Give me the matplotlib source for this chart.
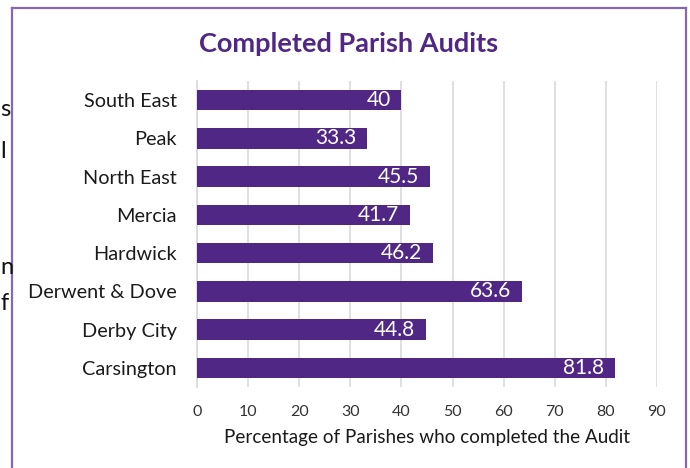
import numpy as np
import matplotlib
matplotlib.use("Agg")
from matplotlib import pyplot as plt
from matplotlib.lines import Line2D

# data, top to bottom as shown
regions = ["South East", "Peak", "North East", "Mercia", "Hardwick",
           "Derwent & Dove", "Derby City", "Carsington"]
pct_done = [40, 33.3, 45.5, 41.7, 46.2, 63.6, 44.8, 81.8]
x_ticks = [0, 10, 20, 30, 40, 50, 60, 70, 80, 90]

purple = "#512786"
plt.rcParams['font.family'] = ['Lato', 'DejaVu Sans']

W, H = 690, 468
fig = plt.figure(figsize=(W / 100, H / 100), dpi=100)
# axes placed in pixel terms: x 197..657, y 81..387
ax = fig.add_axes([197 / W, 1 - 387 / H, (657 - 197) / W, (387 - 81) / H])

ypos = np.arange(len(regions))
bars = ax.barh(ypos, pct_done, height=0.53, color=purple, zorder=3)
ax.set_ylim(len(regions) - 0.5, -0.5)
ax.set_xlim(0, 90)
ax.set_yticks(ypos)
ax.set_yticklabels(regions, fontsize=14.3, color="#1a1a1a")
ax.set_xticks(x_ticks)
ax.set_xticklabels([str(t) for t in x_ticks], fontsize=11.5, color="#333333")
ax.tick_params(axis='both', length=0)
ax.tick_params(axis='y', pad=14.5)
ax.tick_params(axis='x', pad=13)

ax.grid(axis='x', color="#d9d9d9", linewidth=1.2, zorder=0)
for s in ["top", "right", "bottom"]:
    ax.spines[s].set_visible(False)
ax.spines["left"].set_color("#d9d9d9")
ax.spines["left"].set_linewidth(1.2)

# value labels inside bar ends
for b, v in zip(bars, pct_done):
    lab = "%g" % v
    ax.text(b.get_width() - 2.1, b.get_y() + b.get_height() / 2, lab,
            ha='right', va='center', color="white", fontsize=15, zorder=4)

ax.set_xlabel("Percentage of Parishes who completed the Audit",
              fontsize=13.6, color="#1a1a1a", labelpad=7)

fig.text(349 / W, 1 - 44 / H, "Completed Parish Audits", ha='center', va='center',
         fontsize=19.5, fontweight='bold', color=purple)

# chart frame
frame_c = "#8468b4"
fig.add_artist(Line2D([12 / W, 12 / W], [0, 1 - 8 / H], color=frame_c, lw=1.6))
fig.add_artist(Line2D([12 / W, 686 / W], [1 - 8 / H, 1 - 8 / H], color=frame_c, lw=1.6))
fig.add_artist(Line2D([686 / W, 686 / W], [0, 1 - 8 / H], color=frame_c, lw=1.6))

# bits of document text showing at the left edge
for ch, yy in [("s", 110), ("l", 152), ("n", 268), ("f", 303)]:
    fig.text(0.5 / W, 1 - yy / H, ch, ha='left', va='center', fontsize=17, color="#111111")

fig.savefig("out.png", dpi=100)
